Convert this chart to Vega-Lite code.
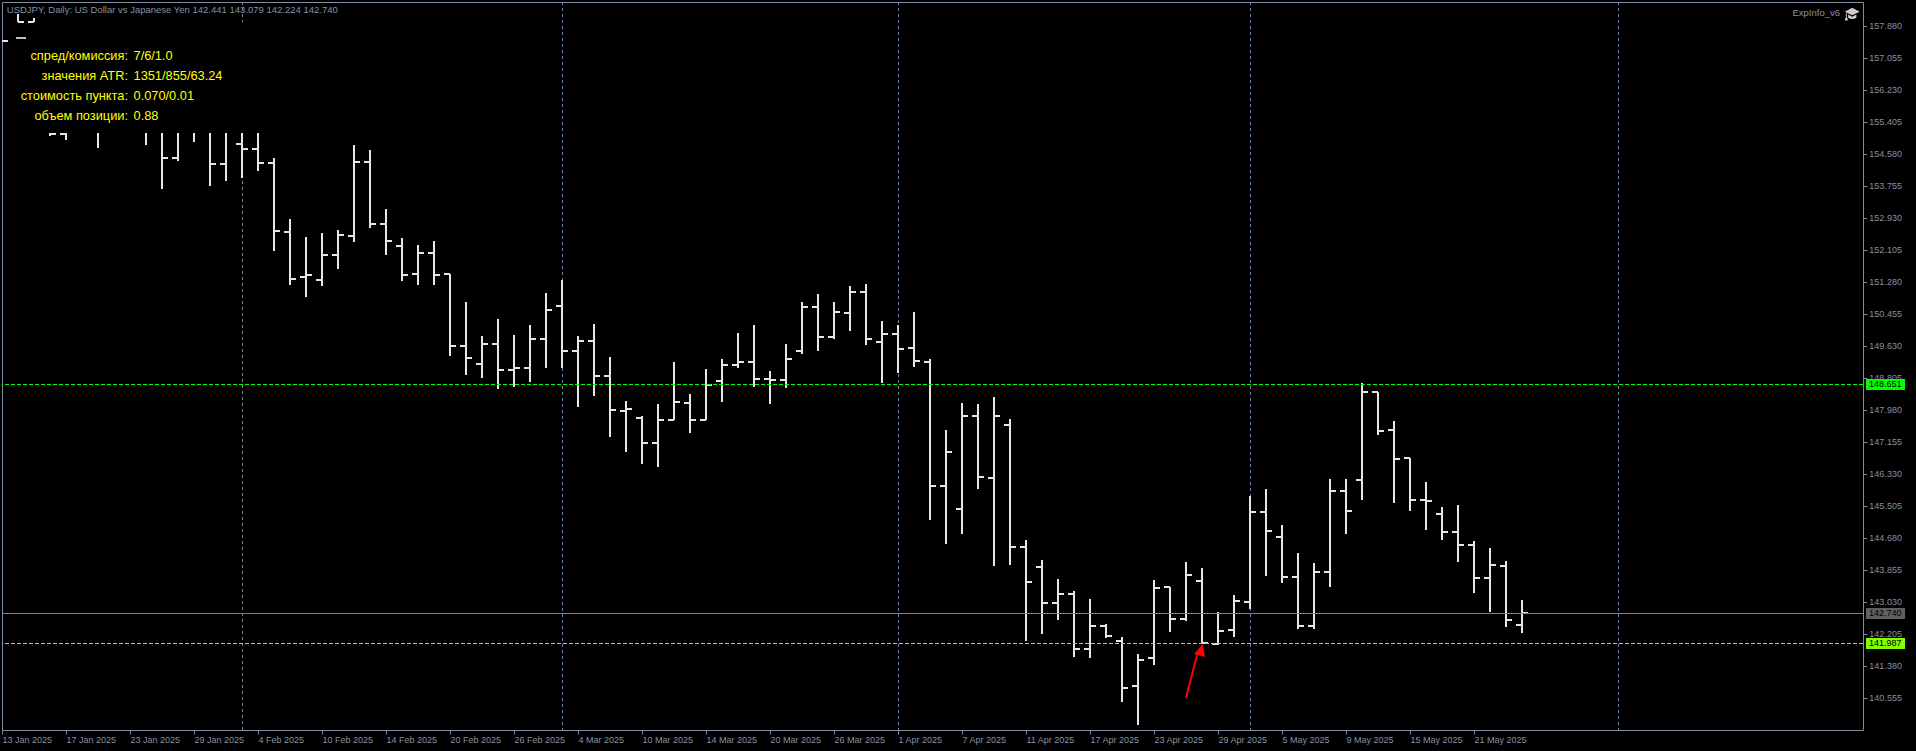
{"$schema":"https://vega.github.io/schema/vega-lite/v6.json","autosize":{"type":"none"},"padding":{"left":2,"top":2,"right":53,"bottom":21},"width":1861,"height":728,"background":"#000000","config":{"view":{"stroke":"#7F8EA3","strokeWidth":1},"axis":{"grid":false,"domain":false,"labelFont":"Liberation Sans","labelFontSize":9,"labelColor":"#8492A6","tickColor":"#7F8EA3","tickSize":4,"labelBound":false,"labelFlush":false},"text":{"font":"Liberation Sans"}},
"datasets":{"bars":[
{"bar":0,"close":157.488},
{"bar":1,"high":158.202,"low":157.996,"close":157.996},
{"bar":2,"high":158.099,"low":157.996,"open":157.996},
{"bar":3,"high":155.134,"low":155.057,"close":155.109},
{"bar":4,"high":155.134,"low":154.954,"open":155.109},
{"bar":6,"high":155.134,"low":154.748},
{"bar":9,"high":155.134,"low":154.825},
{"bar":10,"high":155.134,"low":153.690,"close":154.490},
{"bar":11,"high":155.134,"low":154.412,"open":154.490},
{"bar":12,"high":155.134,"low":154.902},
{"bar":13,"high":155.134,"low":153.768,"close":154.317},
{"bar":14,"high":155.134,"low":153.897,"open":154.317},
{"bar":15,"high":155.134,"low":153.974,"open":154.832,"close":154.704},
{"bar":16,"high":155.134,"low":154.154,"open":154.722,"close":154.343},
{"bar":17,"high":154.490,"low":152.092,"open":154.343,"close":152.590},
{"bar":18,"high":152.917,"low":151.215,"open":152.564,"close":151.370},
{"bar":19,"high":152.453,"low":150.906,"open":151.404,"close":151.455},
{"bar":20,"high":152.556,"low":151.190,"open":151.326,"close":151.989},
{"bar":21,"high":152.633,"low":151.628,"open":151.989,"close":152.486},
{"bar":22,"high":154.825,"low":152.324,"open":152.461,"close":154.387},
{"bar":23,"high":154.696,"low":152.685,"open":154.368,"close":152.788},
{"bar":24,"high":153.175,"low":151.989,"open":152.788,"close":152.350},
{"bar":25,"high":152.427,"low":151.319,"open":152.221,"close":151.473},
{"bar":26,"high":152.247,"low":151.215,"open":151.499,"close":152.040},
{"bar":27,"high":152.350,"low":151.215,"open":152.022,"close":151.473},
{"bar":28,"high":151.481,"low":149.385,"open":151.481,"close":149.643},
{"bar":29,"high":150.777,"low":148.895,"open":149.643,"close":149.333},
{"bar":30,"high":149.901,"low":148.818,"open":149.179,"close":149.694},
{"bar":31,"high":150.339,"low":148.534,"open":149.694,"close":149.024},
{"bar":32,"high":149.926,"low":148.586,"open":149.024,"close":149.076},
{"bar":33,"high":150.184,"low":148.715,"open":149.076,"close":149.823},
{"bar":34,"high":151.009,"low":149.076,"open":149.823,"close":150.571},
{"bar":35,"high":151.344,"low":149.076,"open":150.674,"close":149.514},
{"bar":36,"high":149.901,"low":148.070,"open":149.514,"close":149.772},
{"bar":37,"high":150.210,"low":148.354,"open":149.772,"close":148.869},
{"bar":38,"high":149.359,"low":147.297,"open":148.869,"close":147.993},
{"bar":39,"high":148.225,"low":146.910,"open":147.967,"close":148.019},
{"bar":40,"high":147.838,"low":146.601,"open":147.787,"close":147.142},
{"bar":41,"high":148.147,"low":146.523,"open":147.142,"close":147.735},
{"bar":42,"high":149.230,"low":147.735,"open":147.735,"close":148.199},
{"bar":43,"high":148.405,"low":147.400,"open":148.173,"close":147.735},
{"bar":44,"high":149.050,"low":147.735,"open":147.735,"close":148.637},
{"bar":45,"high":149.308,"low":148.199,"open":148.740,"close":149.153},
{"bar":46,"high":149.978,"low":149.076,"open":149.153,"close":149.230},
{"bar":47,"high":150.184,"low":148.586,"open":149.230,"close":148.792},
{"bar":48,"high":148.998,"low":148.147,"open":148.792,"close":148.766},
{"bar":49,"high":149.694,"low":148.560,"open":148.766,"close":149.308},
{"bar":50,"high":150.777,"low":149.437,"open":149.514,"close":150.648},
{"bar":51,"high":150.983,"low":149.514,"open":150.648,"close":149.875},
{"bar":52,"high":150.777,"low":149.823,"open":149.875,"close":150.519},
{"bar":53,"high":151.190,"low":150.029,"open":150.494,"close":151.035},
{"bar":54,"high":151.241,"low":149.669,"open":151.035,"close":149.823},
{"bar":55,"high":150.287,"low":148.689,"open":149.746,"close":149.952},
{"bar":56,"high":150.184,"low":148.947,"open":149.952,"close":149.565},
{"bar":57,"high":150.519,"low":149.101,"open":149.591,"close":149.256},
{"bar":58,"high":149.308,"low":145.157,"open":149.230,"close":146.033},
{"bar":59,"high":147.477,"low":144.538,"open":146.033,"close":146.910},
{"bar":60,"high":148.173,"low":144.796,"open":145.441,"close":147.838},
{"bar":61,"high":148.147,"low":145.956,"open":147.838,"close":146.265},
{"bar":62,"high":148.328,"low":143.971,"open":146.240,"close":147.838},
{"bar":63,"high":147.761,"low":143.997,"open":147.606,"close":144.461},
{"bar":64,"high":144.641,"low":142.037,"open":144.461,"close":143.558},
{"bar":65,"high":144.126,"low":142.218,"open":143.945,"close":143.017},
{"bar":66,"high":143.636,"low":142.579,"open":143.017,"close":143.249},
{"bar":67,"high":143.326,"low":141.625,"open":143.249,"close":141.831},
{"bar":68,"high":143.120,"low":141.599,"open":141.831,"close":142.424},
{"bar":69,"high":142.476,"low":142.115,"open":142.424,"close":142.166},
{"bar":70,"high":142.141,"low":140.465,"open":142.037,"close":140.826},
{"bar":71,"high":141.702,"low":139.872,"open":140.877,"close":141.548},
{"bar":72,"high":143.610,"low":141.419,"open":141.599,"close":143.404},
{"bar":73,"high":143.430,"low":142.269,"open":143.430,"close":142.605},
{"bar":74,"high":144.074,"low":142.553,"open":142.605,"close":143.739},
{"bar":75,"high":143.919,"low":141.960,"open":143.584,"close":141.986},
{"bar":76,"high":142.785,"low":141.934,"open":141.960,"close":142.295},
{"bar":77,"high":143.223,"low":142.141,"open":142.321,"close":143.069},
{"bar":78,"high":145.776,"low":142.862,"open":143.043,"close":145.363},
{"bar":79,"high":145.956,"low":143.713,"open":145.363,"close":144.873},
{"bar":80,"high":145.028,"low":143.533,"open":144.719,"close":143.687},
{"bar":81,"high":144.306,"low":142.347,"open":143.687,"close":142.424},
{"bar":82,"high":144.048,"low":142.347,"open":142.424,"close":143.816},
{"bar":83,"high":146.214,"low":143.430,"open":143.816,"close":145.905},
{"bar":84,"high":146.214,"low":144.796,"open":145.905,"close":145.389},
{"bar":85,"high":148.689,"low":145.673,"open":146.188,"close":148.457},
{"bar":86,"high":148.457,"low":147.348,"open":148.457,"close":147.451},
{"bar":87,"high":147.709,"low":145.595,"open":147.477,"close":146.730},
{"bar":88,"high":146.755,"low":145.389,"open":146.755,"close":145.673},
{"bar":89,"high":146.137,"low":144.899,"open":145.673,"close":145.647},
{"bar":90,"high":145.492,"low":144.641,"open":145.312,"close":144.848},
{"bar":91,"high":145.544,"low":144.074,"open":144.848,"close":144.512},
{"bar":92,"high":144.615,"low":143.275,"open":144.512,"close":143.662},
{"bar":93,"high":144.435,"low":142.785,"open":143.662,"close":143.997},
{"bar":94,"high":144.100,"low":142.398,"open":143.971,"close":142.579},
{"bar":95,"high":143.079,"low":142.224,"open":142.441,"close":142.740}
],
"priceTicks":[{"price":157.88},{"price":157.055},{"price":156.23},{"price":155.405},{"price":154.58},{"price":153.755},{"price":152.93},{"price":152.105},{"price":151.28},{"price":150.455},{"price":149.63},{"price":148.805},{"price":147.98},{"price":147.155},{"price":146.33},{"price":145.505},{"price":144.68},{"price":143.855},{"price":143.03},{"price":142.205},{"price":141.38},{"price":140.555}],
"levels":[{"price":148.651,"label":"148.651","kind":"resistance"},{"price":141.987,"label":"141.987","kind":"support"},{"price":142.74,"label":"142.740","kind":"last"}],
"panel":[{"line":157.101,"key":"спред/комиссия:","value":"7/6/1.0"},{"line":156.586,"key":"значения ATR:","value":"1351/855/63.24"},{"line":156.07,"key":"стоимость пункта:","value":"0.070/0.01"},{"line":155.554,"key":"объем позиции:","value":"0.88"}]},
"layer":[
{"data":{"values":[{"bar":15,"top":158.5,"bottom":157.996},{"bar":15,"top":155.134,"bottom":139.743},{"bar":35,"top":158.5,"bottom":139.743},{"bar":56,"top":158.5,"bottom":139.743},{"bar":78,"top":158.5,"bottom":139.743},{"bar":101,"top":158.5,"bottom":139.743}]},
"mark":{"type":"rule","stroke":"#7186A5","strokeWidth":1,"strokeDash":[3,3],"xOffset":0.5},
"encoding":{"x":{"field":"bar","type":"quantitative","title":null,"scale":{"domain":[0,116.3125],"nice":false,"zero":false},"axis":{"values":[0,4,8,12,16,20,24,28,32,36,40,44,48,52,56,60,64,68,72,76,80,84,88,92],"labelAlign":"left","labelPadding":1,"labelOverlap":false,"labelExpr":"['13 Jan 2025','17 Jan 2025','23 Jan 2025','29 Jan 2025','4 Feb 2025','10 Feb 2025','14 Feb 2025','20 Feb 2025','26 Feb 2025','4 Mar 2025','10 Mar 2025','14 Mar 2025','20 Mar 2025','26 Mar 2025','1 Apr 2025','7 Apr 2025','11 Apr 2025','17 Apr 2025','23 Apr 2025','29 Apr 2025','5 May 2025','9 May 2025','15 May 2025','21 May 2025'][datum.value/4]"}},
"y":{"field":"top","type":"quantitative","title":null,"scale":{"domain":[139.7352,158.5039],"nice":false,"zero":false,"round":true},"axis":{"orient":"right","values":[157.88,157.055,156.23,155.405,154.58,153.755,152.93,152.105,151.28,150.455,149.63,148.805,147.98,147.155,146.33,145.505,144.68,143.855,143.03,142.205,141.38,140.555],"labels":false}},"y2":{"field":"bottom"}}},
{"data":{"name":"bars"},"transform":[{"filter":"isValid(datum.high)"}],"mark":{"type":"rule","stroke":"#E6E6E6","strokeWidth":2},"encoding":{"x":{"field":"bar","type":"quantitative","title":null},"y":{"field":"high","type":"quantitative","title":null},"y2":{"field":"low"}}},
{"data":{"name":"bars"},"transform":[{"filter":"isValid(datum.open)"}],"mark":{"type":"rule","stroke":"#E6E6E6","strokeWidth":2,"xOffset":-6,"x2Offset":0},"encoding":{"x":{"field":"bar","type":"quantitative","title":null},"x2":{"field":"bar"},"y":{"field":"open","type":"quantitative","title":null}}},
{"data":{"name":"bars"},"transform":[{"filter":"isValid(datum.close)"}],"mark":{"type":"rule","stroke":"#E6E6E6","strokeWidth":2,"xOffset":0,"x2Offset":6},"encoding":{"x":{"field":"bar","type":"quantitative","title":null},"x2":{"field":"bar"},"y":{"field":"close","type":"quantitative","title":null}}},
{"data":{"values":[{"from":0.875,"to":1.5,"price":157.565}]},"mark":{"type":"rule","stroke":"#C0C0C0","strokeWidth":2},"encoding":{"x":{"field":"from","type":"quantitative","title":null},"x2":{"field":"to"},"y":{"field":"price","type":"quantitative","title":null}}},
{"data":{"name":"priceTicks"},"mark":{"type":"rule","stroke":"#7F8EA3","strokeWidth":1,"yOffset":0.5},"encoding":{"x":{"datum":116.3125,"type":"quantitative"},"x2":{"datum":116.56},"y":{"field":"price","type":"quantitative","title":null}}},
{"data":{"name":"priceTicks"},"mark":{"type":"text","align":"left","baseline":"middle","fontSize":9,"fill":"#8492A6"},"encoding":{"x":{"datum":116.71,"type":"quantitative"},"y":{"field":"price","type":"quantitative","title":null},"text":{"field":"price","type":"quantitative","format":".3f"}}},
{"data":{"name":"levels"},"mark":{"type":"rule","strokeWidth":1,"yOffset":0.5},"encoding":{"y":{"field":"price","type":"quantitative","title":null},"stroke":{"field":"kind","type":"nominal","legend":null,"scale":{"domain":["resistance","support","last"],"range":["#00FF00","#7FFF00","#808080"]}},"strokeDash":{"field":"kind","type":"nominal","legend":null,"scale":{"domain":["resistance","support","last"],"range":[[4,2],[4,2],[1,0]]}}}},
{"data":{"name":"levels"},"mark":{"type":"rect","yOffset":-5,"y2Offset":6},"encoding":{"x":{"datum":116.5,"type":"quantitative"},"x2":{"datum":118.94},"y":{"field":"price","type":"quantitative","title":null},"y2":{"field":"price"},"fill":{"field":"kind","type":"nominal","legend":null,"scale":{"domain":["resistance","support","last"],"range":["#00FF00","#80FF00","#606060"]}}}},
{"data":{"name":"levels"},"mark":{"type":"text","align":"left","baseline":"middle","fontSize":9,"fill":"#000000"},"encoding":{"x":{"datum":116.68,"type":"quantitative"},"y":{"field":"price","type":"quantitative","title":null},"text":{"field":"label"}}},
{"data":{"values":[{"from":74.0,"to":74.69,"price":140.56,"price2":141.677}]},"mark":{"type":"rule","stroke":"#FF0000","strokeWidth":2},"encoding":{"x":{"field":"from","type":"quantitative","title":null},"x2":{"field":"to"},"y":{"field":"price","type":"quantitative","title":null},"y2":{"field":"price2"}}},
{"data":{"values":[{"bar":74.91,"price":141.78}]},"mark":{"type":"point","filled":true,"fill":"#FF0000","opacity":1,"size":196,"shape":"M0.31,-1 L-0.93,0.43 L0.64,0.86 Z"},"encoding":{"x":{"field":"bar","type":"quantitative","title":null},"y":{"field":"price","type":"quantitative","title":null}}},
{"data":{"name":"panel"},"mark":{"type":"text","align":"right","baseline":"middle","fontSize":12.8,"fill":"#FFFF00"},"encoding":{"x":{"datum":7.875,"type":"quantitative"},"y":{"field":"line","type":"quantitative","title":null},"text":{"field":"key"}}},
{"data":{"name":"panel"},"mark":{"type":"text","align":"left","baseline":"middle","fontSize":12.8,"fill":"#FFFF00"},"encoding":{"x":{"datum":8.22,"type":"quantitative"},"y":{"field":"line","type":"quantitative","title":null},"text":{"field":"value"}}},
{"data":{"values":[{"bar":0.3,"price":158.305,"text":"USDJPY, Daily:  US Dollar vs Japanese Yen  142.441 143.079 142.224 142.740"}]},"mark":{"type":"text","align":"left","baseline":"middle","fontSize":9.5,"fill":"#8492A6"},"encoding":{"x":{"field":"bar","type":"quantitative","title":null},"y":{"field":"price","type":"quantitative","title":null},"text":{"field":"text"}}},
{"data":{"values":[{"bar":114.875,"price":158.212,"text":"ExpInfo_v6"}]},"mark":{"type":"text","align":"right","baseline":"middle","fontSize":9.5,"fill":"#8492A6"},"encoding":{"x":{"field":"bar","type":"quantitative","title":null},"y":{"field":"price","type":"quantitative","title":null},"text":{"field":"text"}}},
{"data":{"values":[{"bar":115.64,"price":158.2}]},"mark":{"type":"point","filled":true,"fill":"#CCCCCC","opacity":1,"size":225,"shape":"M-1,-0.3 L0,-0.85 L1,-0.3 L0,0.15 Z M-0.55,0.05 L0,0.35 L0.55,0.05 L0.55,0.5 Q0,0.85 -0.55,0.5 Z M-0.85,-0.1 L-0.72,-0.1 L-0.72,0.55 L-0.6,0.55 L-0.6,0.85 L-0.97,0.85 L-0.97,0.55 L-0.85,0.55 Z"},"encoding":{"x":{"field":"bar","type":"quantitative","title":null},"y":{"field":"price","type":"quantitative","title":null}}}
]}
